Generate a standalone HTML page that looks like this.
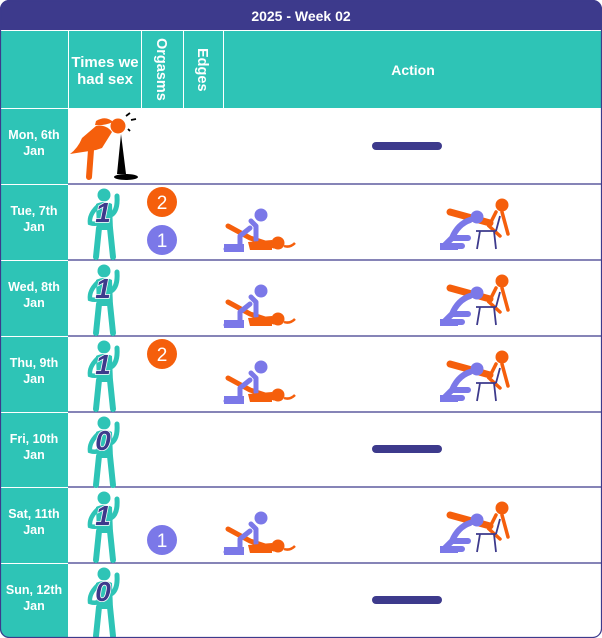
<!DOCTYPE html>
<html><head><meta charset="utf-8"><style>
html,body{margin:0;padding:0;background:#fff}
svg{display:block}
text{font-family:"Liberation Sans",sans-serif;font-weight:bold}
text.n{font-weight:normal}
</style></head><body>
<svg width="602" height="638" viewBox="0 0 602 638" xmlns="http://www.w3.org/2000/svg">
<defs>
<clipPath id="c"><rect x="0" y="0" width="602" height="638" rx="9"/></clipPath>
<g id="man">
  <circle cx="104" cy="11" r="6.5" fill="#2ec4b6"/>
  <path d="M96 20 Q104 16 112 20 L113 46 L97 46 Z" fill="#2ec4b6"/>
  <path d="M99 44 L96 73 M110 44 L113 73" stroke="#2ec4b6" stroke-width="6" stroke-linecap="round" fill="none"/>
  <path d="M111 31 Q118 27 117 12" stroke="#2ec4b6" stroke-width="5" stroke-linecap="round" fill="none"/>
  <path d="M97 23 Q89 31 90 39 Q96 41 101 38" stroke="#2ec4b6" stroke-width="4.5" stroke-linecap="round" fill="none"/>
</g>
<g id="act1">
  <circle cx="261" cy="37" r="6.5" fill="#7b78e8"/>
  <path d="M228 48 L250 60 L262 64 L274 68" stroke="#f55f0c" stroke-width="5" stroke-linecap="round" fill="none"/>
  <path d="M251 43 L256 48 L256 62 M250 50 L240 58 L240 71 L226 71" stroke="#7b78e8" stroke-width="5" stroke-linecap="round" stroke-linejoin="round" fill="none"/>
  <path d="M224 66 L244 66 L244 74 L224 74 Z" fill="#7b78e8"/>
  <path d="M248 64 L272 62 L272 72 L250 72 Z" fill="#f55f0c"/>
  <circle cx="278" cy="65" r="6.5" fill="#f55f0c"/>
  <path d="M284 68 Q290 70 295 65" stroke="#f55f0c" stroke-width="2.5" fill="none"/>
</g>
<g id="act2">
  <path d="M450 34 L490 45" stroke="#f55f0c" stroke-width="7" stroke-linecap="round"/>
  <circle cx="502" cy="27" r="6.5" fill="#f55f0c"/>
  <path d="M496 34 L489 48 L500 58 M502 34 L508 56" stroke="#f55f0c" stroke-width="3.5" stroke-linecap="round" fill="none"/>
  <circle cx="477" cy="39" r="6.5" fill="#7b78e8"/>
  <path d="M470 42 Q458 46 452 60 L444 68 L462 68 M452 60 L468 60" stroke="#7b78e8" stroke-width="6" stroke-linecap="round" stroke-linejoin="round" fill="none"/>
  <path d="M440 65 L458 65 L458 72 L440 72 Z" fill="#7b78e8"/>
  <path d="M476 53 L496 53 M480 53 L477 71 M494 53 L496 71 M496 53 L500 38" stroke="#3d3a8c" stroke-width="1.8" fill="none"/>
</g>
</defs>
<g clip-path="url(#c)">
<rect x="0" y="0" width="602" height="638" fill="#fff"/>
<rect x="0" y="0" width="602" height="30" fill="#3d3a8c"/>
<text x="301" y="21" font-size="14" fill="#fff" text-anchor="middle">2025 - Week 02</text>
<rect x="0" y="30" width="602" height="78" fill="#2ec4b6"/>
<rect x="0" y="108" width="68" height="530" fill="#2ec4b6"/>
<g stroke="#fff" stroke-width="1">
<line x1="68.5" y1="30" x2="68.5" y2="108"/><line x1="141.5" y1="30" x2="141.5" y2="108"/>
<line x1="183.5" y1="30" x2="183.5" y2="108"/><line x1="223.5" y1="30" x2="223.5" y2="108"/>
<line x1="0" y1="30.5" x2="602" y2="30.5"/>
<line x1="0" y1="108.5" x2="68" y2="108.5"/>
<line x1="0" y1="184.5" x2="68" y2="184.5"/><line x1="0" y1="260.5" x2="68" y2="260.5"/>
<line x1="0" y1="336.5" x2="68" y2="336.5"/><line x1="0" y1="412.5" x2="68" y2="412.5"/>
<line x1="0" y1="487.5" x2="68" y2="487.5"/><line x1="0" y1="563.5" x2="68" y2="563.5"/>
</g>
<g stroke="#3d3a8c" stroke-width="1.3">
<line x1="68" y1="184" x2="602" y2="184"/><line x1="68" y1="260" x2="602" y2="260"/>
<line x1="68" y1="336" x2="602" y2="336"/><line x1="68" y1="412" x2="602" y2="412"/>
<line x1="68" y1="487" x2="602" y2="487"/><line x1="68" y1="563" x2="602" y2="563"/>
</g>
<g fill="#fff" font-size="15" text-anchor="middle">
<text x="105" y="67">Times we</text><text x="105" y="84">had sex</text>
<text x="413" y="75" font-size="14">Action</text>
</g>
<g fill="#fff" font-size="14.5">
<text transform="translate(157,38) rotate(90)">Orgasms</text>
<text transform="translate(198,48) rotate(90)">Edges</text>
</g>
<g fill="#fff" font-size="12.5" text-anchor="middle">
<text x="34" y="139">Mon, 6th</text><text x="34" y="155">Jan</text>
<text x="34" y="215">Tue, 7th</text><text x="34" y="231">Jan</text>
<text x="34" y="291">Wed, 8th</text><text x="34" y="307">Jan</text>
<text x="34" y="367">Thu, 9th</text><text x="34" y="383">Jan</text>
<text x="34" y="443">Fri, 10th</text><text x="34" y="459">Jan</text>
<text x="34" y="518">Sat, 11th</text><text x="34" y="534">Jan</text>
<text x="34" y="594">Sun, 12th</text><text x="34" y="610">Jan</text>
</g>
<circle cx="118" cy="126" r="7.5" fill="#f55f0c"/>
<path d="M96 121 Q106 115 113 122 Q104 126 95 125 Z" fill="#f55f0c"/>
<path d="M96 126 Q106 124 112 132 L102 148 L96 150 L70 154 Q78 148 82 138 Z" fill="#f55f0c"/>
<path d="M91 150 L89 177" stroke="#f55f0c" stroke-width="6" stroke-linecap="round"/>
<path d="M121 134 L117 174 L126 174 Z" fill="#000"/>
<ellipse cx="126" cy="177" rx="12" ry="3" fill="#000"/>
<path d="M126 116 l4 -3 M131 120 l5 -1 M128 129 l2 2" stroke="#000" stroke-width="1.8"/>
<g fill="#3d3a8c"><rect x="372" y="142" width="70" height="8" rx="4"/><rect x="372" y="445" width="70" height="8" rx="4"/><rect x="372" y="596" width="70" height="8" rx="4"/></g>
<g font-size="28" font-style="italic" fill="#3d3a8c" text-anchor="middle" stroke="#fff" stroke-width="1.5" paint-order="stroke">
<use href="#man" y="184"/><text x="103" y="222">1</text>
<use href="#man" y="260"/><text x="103" y="298">1</text>
<use href="#man" y="336"/><text x="103" y="374">1</text>
<use href="#man" y="412"/><text x="103" y="450">0</text>
<use href="#man" y="487"/><text x="103" y="525">1</text>
<use href="#man" y="563"/><text x="103" y="601">0</text>
</g>
<g font-size="19" fill="#fff" text-anchor="middle">
<circle cx="162" cy="202" r="15" fill="#f55f0c"/><text class="n" x="162" y="209">2</text>
<circle cx="162" cy="240" r="15" fill="#7b78e8"/><text class="n" x="162" y="247">1</text>
<circle cx="162" cy="354" r="15" fill="#f55f0c"/><text class="n" x="162" y="361">2</text>
<circle cx="162" cy="540" r="15" fill="#7b78e8"/><text class="n" x="162" y="547">1</text>
</g>
<use href="#act1" y="178"/><use href="#act2" y="178"/>
<use href="#act1" y="254"/><use href="#act2" y="254"/>
<use href="#act1" y="330"/><use href="#act2" y="330"/>
<use href="#act1" y="481"/><use href="#act2" y="481"/>
</g>
<rect x="0.5" y="0.5" width="601" height="637" rx="9" fill="none" stroke="#3d3a8c" stroke-width="1.2"/>
</svg>
</body></html>
